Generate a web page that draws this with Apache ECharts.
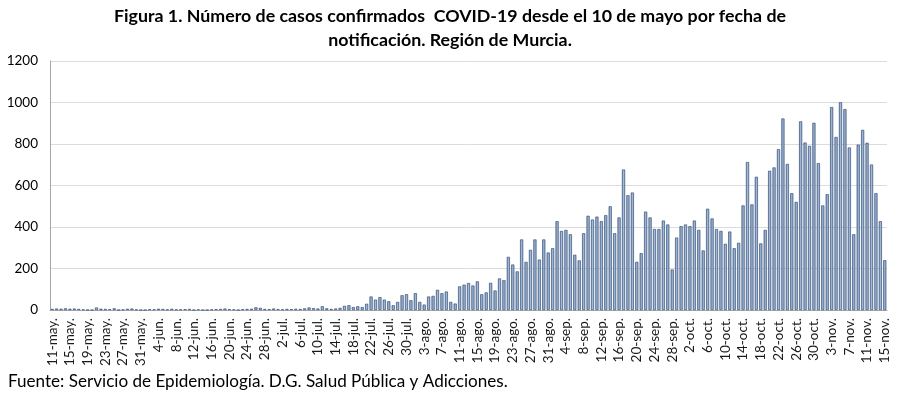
<!DOCTYPE html>
<html>
<head>
<meta charset="utf-8">
<script src="https://cdn.jsdelivr.net/npm/echarts@6/dist/echarts.min.js"></script>
<style>
  html, body { margin: 0; padding: 0; background: #fff; }
  #chart { width: 900px; height: 398px; }
</style>
</head>
<body>
<div id="chart"></div>
<script>
// meses (abreviatura, primer día, último día)
const months = [
  ['may', 11, 31], ['jun', 1, 30], ['jul', 1, 31], ['ago', 1, 31],
  ['sep', 1, 30], ['oct', 1, 31], ['nov', 1, 15]
]

// casos diarios por mes
const may = [5, 7, 6, 8, 6, 7, 5, 3, 1, 0, 12, 6, 5, 4, 8, 0, 2, 6, 7, 2, 0]
const jun = [0, 4, 3, 6, 5, 3, 6, 2, 3, 4, 5, 0, 3, 0, 0, 3, 4, 5, 7, 4,
  3, 0, 4, 5, 6, 13, 10, 5, 4, 7]
const jul = [4, 3, 5, 4, 6, 5, 8, 12, 9, 7, 18, 8, 5, 7, 10, 20, 23, 14, 18, 14,
  30, 65, 50, 62, 50, 42, 23, 39, 71, 76, 47]
const ago = [81, 39, 26, 65, 68, 97, 81, 89, 39, 31, 114, 122, 130, 118, 138, 76, 85, 131, 94, 152,
  144, 256, 219, 186, 340, 232, 290, 340, 243, 340, 277]
const sep = [298, 428, 381, 386, 365, 266, 239, 370, 454, 436, 450, 428, 457, 500, 370, 446, 677, 553, 566, 232,
  274, 474, 446, 390, 390, 431, 412, 195, 349, 404]
const oct = [412, 404, 431, 386, 287, 488, 441, 390, 381, 319, 378, 298, 324, 504, 713, 509, 642, 321, 386, 671,
  687, 775, 923, 704, 563, 521, 909, 807, 791, 902, 708]
const nov = [504, 558, 978, 834, 1001, 968, 783, 365, 797, 868, 806, 701, 563, 428, 240]

const yTicks = [0, 200, 400, 600, 800, 1000, 1200]

const values = [].concat(may, jun, jul, ago, sep, oct, nov)
const categories = []
months.forEach(([m, d0, d1]) => {
  for (let d = d0; d <= d1; d++) categories.push(d + '-' + m + '.')
})

const myChart = echarts.init(document.getElementById('chart'))
const option = {
  backgroundColor: '#fff',
  animation: false,
  textStyle: { fontFamily: 'Lato' },
  title: [{
    text: 'Figura 1. Número de casos confirmados  COVID-19 desde el 10 de mayo por fecha de',
    left: 'center',
    top: 7,
    padding: 0,
    textStyle: { fontSize: 17.8, fontWeight: 'bold', color: '#000', fontFamily: 'Lato' }
  }, {
    text: 'notificación. Región de Murcia.',
    left: 'center',
    top: 31,
    padding: 0,
    textStyle: { fontSize: 17.8, fontWeight: 'bold', color: '#000', fontFamily: 'Lato' }
  }, {
    text: 'Fuente: Servicio de Epidemiología. D.G. Salud Pública y Adicciones.',
    left: 8,
    top: 373,
    padding: 0,
    textStyle: { fontSize: 17.1, fontWeight: 'normal', color: '#000', fontFamily: 'Lato' }
  }],
  grid: { left: 50, right: 13, top: 61, bottom: 88 },
  xAxis: {
    type: 'category',
    data: categories,
    boundaryGap: true,
    axisLine: { lineStyle: { color: '#a6a6a6' } },
    axisTick: { interval: 3, length: 5, lineStyle: { color: '#a6a6a6' } },
    axisLabel: {
      interval: 3,
      rotate: 90,
      margin: 8,
      fontSize: 13.5,
      color: '#1a1a1a',
      fontFamily: 'Lato'
    }
  },
  yAxis: {
    type: 'value',
    min: yTicks[0],
    max: yTicks[yTicks.length - 1],
    interval: 200,
    axisLine: { show: true, lineStyle: { color: '#a6a6a6' } },
    axisTick: { show: false },
    axisLabel: { fontSize: 13.5, color: '#000', margin: 12, fontFamily: 'Lato', formatter: (v) => String(v) },
    splitLine: { lineStyle: { color: '#dcdcdc' } }
  },
  series: [{
    type: 'bar',
    data: values,
    barCategoryGap: '30%',
    itemStyle: {
      color: new echarts.graphic.LinearGradient(0, 0, 1, 0, [
        { offset: 0, color: '#5a78a2' },
        { offset: 0.5, color: '#a6bad5' },
        { offset: 1, color: '#6a87ae' }
      ]),
      borderColor: '#2e4a74',
      borderWidth: 0.6
    }
  }]
}
myChart.setOption(option)
</script>
</body>
</html>
